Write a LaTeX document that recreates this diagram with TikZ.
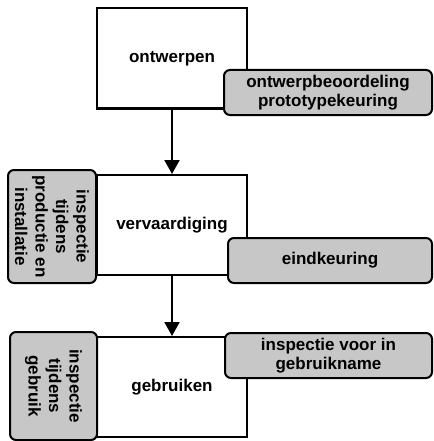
\documentclass[tikz,border=0pt]{standalone}
\usepackage{fontspec}
\setmainfont{Liberation Sans}
\usetikzlibrary{arrows.meta}

\begin{document}
\begin{tikzpicture}[x=1pt,y=-1pt,
  stage/.style={draw, line width=2pt, fill=white, minimum width=150pt, minimum height=100pt, inner sep=0pt, font=\fontsize{17}{20}\selectfont\bfseries},
  check/.style={draw, line width=2pt, rounded corners=6pt, fill=black!22, inner sep=0pt, align=center, font=\fontsize{17}{19}\selectfont\bfseries},
  flow/.style={line width=2pt, -{Triangle[width=15pt,length=14pt]}}
]
\useasboundingbox (0,0) rectangle (433,441);

% the three stages
\node[stage] (design) at (172,58.5) {ontwerpen};
\node[stage] (make) at (172,225) {vervaardiging};
\node[stage] (use) at (172,387) {gebruiken};

\draw[flow] (design) -- (make);
\draw[flow] (make) -- (use);

% inspections beside the stages
\node[check, minimum width=208pt, minimum height=45pt] (review) at (328,92.5) {ontwerpbeoordeling\\prototypekeuring};
\node[check, minimum width=204pt, minimum height=45pt] (final) at (330,260.5) {eindkeuring};
\node[check, minimum width=207pt, minimum height=45pt] (commission) at (328.5,355.5) {inspectie voor in\\gebruikname};

\node[check, rotate=-90, minimum width=113pt, minimum height=88pt, font=\fontsize{17}{20.5}\selectfont\bfseries] (production) at (52,226.5) {inspectie\\tijdens\\productie en\\installatie};
\node[check, rotate=-90, minimum width=108pt, minimum height=87pt, font=\fontsize{17}{20.5}\selectfont\bfseries] (inuse) at (53.5,386) {inspectie\\tijdens\\gebruik};
\end{tikzpicture}
\end{document}
